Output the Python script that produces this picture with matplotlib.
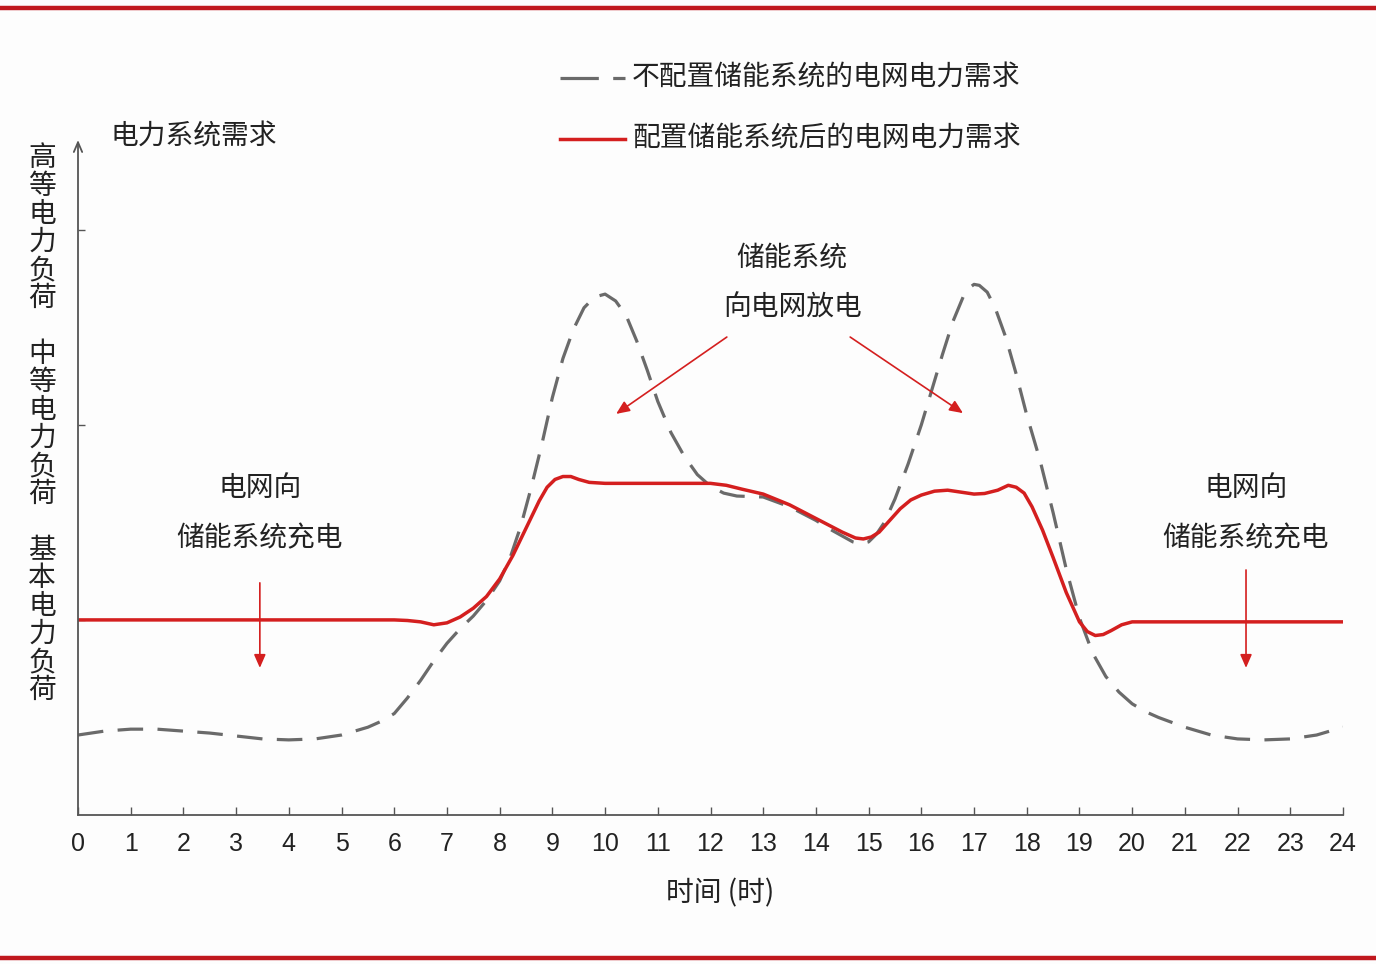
import matplotlib
matplotlib.use('Agg')
import matplotlib.pyplot as plt
from matplotlib.lines import Line2D

plt.rcParams['font.family'] = ['Noto Sans CJK SC', 'DejaVu Sans']

# grid demand without storage (dashed grey)
hours_base = [0, 0.5, 1, 1.5, 2, 2.5, 3, 3.5, 4, 4.5, 5, 5.5, 5.75, 6, 6.25, 6.5,
              6.75, 7, 7.25, 7.5, 7.75, 8, 8.2, 8.4, 8.6, 8.8, 9, 9.2, 9.4, 9.6,
              9.8, 10, 10.2, 10.4, 10.6, 10.8, 11, 11.25, 11.5, 11.75, 12, 12.25,
              12.5, 13, 13.5, 14, 14.3, 14.5, 14.7, 14.85, 15, 15.15, 15.3, 15.5,
              15.75, 16, 16.2, 16.4, 16.6, 16.8, 16.9, 17, 17.1, 17.25, 17.4,
              17.6, 17.8, 18, 18.25, 18.5, 18.75, 19, 19.25, 19.5, 19.75, 20,
              20.25, 20.5, 21, 21.5, 22, 22.5, 23, 23.5, 24]
load_base = [0.41, 0.43, 0.44, 0.44, 0.43, 0.42, 0.405, 0.39, 0.385, 0.39, 0.41,
             0.45, 0.48, 0.52, 0.60, 0.69, 0.79, 0.88, 0.955, 1.02, 1.10, 1.20,
             1.32, 1.48, 1.68, 1.90, 2.14, 2.34, 2.49, 2.60, 2.655, 2.67, 2.635,
             2.56, 2.43, 2.28, 2.12, 1.96, 1.84, 1.745, 1.685, 1.65, 1.635, 1.63,
             1.58, 1.51, 1.46, 1.43, 1.40, 1.39, 1.40, 1.44, 1.50, 1.62, 1.80,
             2.00, 2.18, 2.36, 2.53, 2.66, 2.70, 2.72, 2.715, 2.68, 2.60, 2.45,
             2.26, 2.05, 1.82, 1.55, 1.26, 1.01, 0.83, 0.71, 0.63, 0.57, 0.53,
             0.50, 0.45, 0.41, 0.39, 0.385, 0.39, 0.41, 0.45]

# grid demand with storage (solid red)
hours_storage = [0, 6, 6.25, 6.5, 6.75, 7, 7.25, 7.5, 7.75, 8, 8.25, 8.5, 8.75,
                 8.9, 9.05, 9.2, 9.35, 9.5, 9.7, 10, 11, 12, 12.3, 12.6, 13, 13.5,
                 14, 14.5, 14.75, 14.9, 15.05, 15.2, 15.4, 15.6, 15.8, 16, 16.25,
                 16.5, 16.75, 17, 17.2, 17.45, 17.65, 17.8, 17.95, 18.1, 18.3,
                 18.5, 18.75, 19, 19.15, 19.3, 19.45, 19.6, 19.8, 20, 24]
load_storage = [1.0, 1.0, 0.997, 0.99, 0.975, 0.985, 1.015, 1.06, 1.12, 1.21,
                1.33, 1.47, 1.61, 1.68, 1.72, 1.735, 1.735, 1.72, 1.705, 1.70,
                1.70, 1.70, 1.69, 1.67, 1.645, 1.59, 1.52, 1.45, 1.42, 1.415,
                1.425, 1.45, 1.51, 1.57, 1.615, 1.64, 1.66, 1.665, 1.655, 1.645,
                1.648, 1.665, 1.69, 1.68, 1.65, 1.58, 1.46, 1.32, 1.14, 0.99,
                0.94, 0.92, 0.925, 0.945, 0.975, 0.99, 0.99]

x_ticks = list(range(25))
y_ticks = [1, 2, 3]
y_side_label = '高等电力负荷 中等电力负荷 基本电力负荷'
legend_labels = ['不配置储能系统的电网电力需求', '配置储能系统后的电网电力需求']

GREY = '#6a6a6a'
RED = '#d41f1f'
TXT = '#222222'

W, H = 1376, 964
fig = plt.figure(figsize=(W / 100, H / 100), dpi=100)
fig.patch.set_facecolor('#fdfdfd')
ax = fig.add_axes([78 / W, 1 - 815 / H, (1343 - 78) / W, (815 - 140) / H])
ax.set_facecolor('#fdfdfd')

ax.plot(hours_base, load_base, color=GREY, lw=2.3, dashes=(8, 4.5),
        dash_capstyle='butt', dash_joinstyle='round')
ax.plot(hours_storage, load_storage, color=RED, lw=2.5, solid_joinstyle='round')

ax.set_xlim(0, 24)
ax.set_ylim(0, 3.46)
for s in ['top', 'right', 'left']:
    ax.spines[s].set_visible(False)
ax.spines['bottom'].set_color('#555555')
ax.spines['bottom'].set_linewidth(1.3)

ax.set_xticks(x_ticks)
ax.set_xticklabels([str(t) for t in x_ticks], family=['Liberation Sans', 'DejaVu Sans'])
ax.tick_params(axis='x', direction='in', length=6, width=1, color='#555555',
               pad=12, labelsize=18, labelcolor=TXT)
ax.set_yticks(y_ticks)
ax.set_yticklabels([])
ax.tick_params(axis='y', direction='in', length=5, width=1, color='#555555')

# y axis with arrow head
ax.annotate('', xy=(0, 1.0), xytext=(0, 0), xycoords='axes fraction',
            arrowprops=dict(arrowstyle='->,head_length=0.7,head_width=0.3',
                            color='#555555', lw=1.3, shrinkA=0, shrinkB=0))

# titles / labels
ax.text(0.61, 3.48, '电力系统需求', fontsize=20, color=TXT, va='center', ha='left')
fig.text(720 / W, 1 - 893 / H, '时间 (时)', fontsize=20, color=TXT,
         ha='center', va='center')
for i, ch in enumerate(y_side_label):
    fig.text(42 / W, 1 - (158 + i * 28) / H, ch, fontsize=20, color=TXT,
             ha='center', va='center')

# legend drawn by hand
fig.add_artist(Line2D([560 / W, 625 / W], [1 - 78 / H] * 2, color=GREY, lw=2.3,
                      dashes=(12, 4.5)))
fig.add_artist(Line2D([560 / W, 625 / W], [1 - 139 / H] * 2, color=RED, lw=2.5))
fig.text(632 / W, 1 - 78 / H, legend_labels[0], fontsize=20, color=TXT,
         ha='left', va='center')
fig.text(632 / W, 1 - 139 / H, legend_labels[1], fontsize=20, color=TXT,
         ha='left', va='center')

# annotations
arrow_kw = dict(arrowstyle='-|>,head_length=0.8,head_width=0.35', color=RED,
                lw=1.2, shrinkA=0, shrinkB=0)
ax.text(13.55, 2.86, '储能系统', fontsize=20, color=TXT, ha='center', va='center')
ax.text(13.55, 2.60, '向电网放电', fontsize=20, color=TXT, ha='center', va='center')
ax.annotate('', xy=(10.21, 2.056), xytext=(12.31, 2.45), arrowprops=arrow_kw)
ax.annotate('', xy=(16.79, 2.06), xytext=(14.65, 2.45), arrowprops=arrow_kw)

for xc, y_top in [(3.45, 1.19), (22.16, 1.256)]:
    ax.text(xc, 1.677, '电网向', fontsize=20, color=TXT, ha='center', va='center')
    ax.text(xc, 1.42, '储能系统充电', fontsize=20, color=TXT, ha='center', va='center')
    ax.annotate('', xy=(xc, 0.754), xytext=(xc, y_top), arrowprops=arrow_kw)

# red frame lines
for yy in [1 - 8 / H, 1 - 958 / H]:
    fig.add_artist(Line2D([0, 1], [yy, yy], color='#c0181e', lw=3.2))

fig.savefig('out.png', dpi=100, facecolor=fig.get_facecolor())
